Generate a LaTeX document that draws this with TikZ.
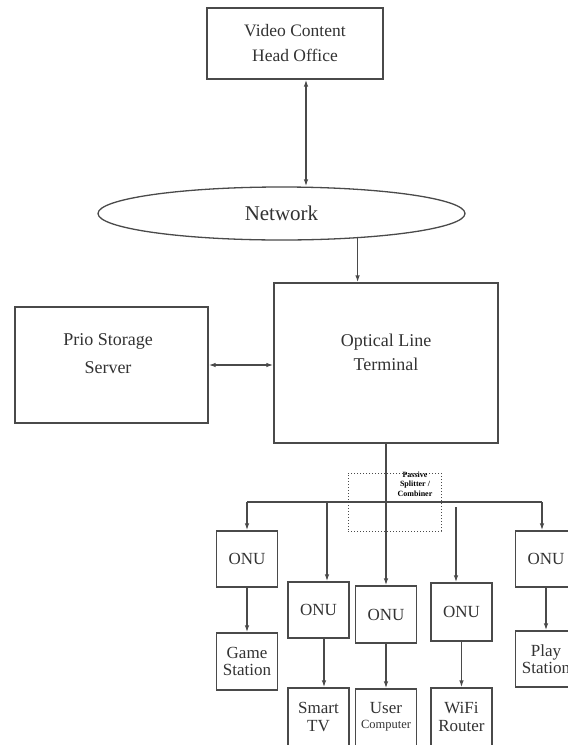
\documentclass[tikz,border=0pt]{standalone}
\usepackage{fontspec}
\setmainfont{Liberation Serif}
\usetikzlibrary{shapes.geometric,arrows.meta}
\definecolor{ln}{HTML}{4A4A4A}
\definecolor{tx}{HTML}{333333}
\tikzset{
  boxnode/.style={draw=ln, line width=1.3pt, rectangle, inner sep=0pt, align=center, text=tx},
  bigtxt/.style={font=\fontsize{17.5}{25}\selectfont},
  devtxt/.style={font=\fontsize{17}{17.5}\selectfont},
  plain/.style={inner sep=0pt, align=center, text=tx},
  conn/.style={draw=ln, line width=1.3pt, -{Latex[length=7pt,width=4.5pt]}},
  dconn/.style={draw=ln, line width=1.3pt, {Latex[length=7pt,width=4.5pt]}-{Latex[length=7pt,width=4.5pt]}},
  bus/.style={draw=ln, line width=1.3pt}
}
\begin{document}
\begin{tikzpicture}[x=1pt,y=-1pt]
\useasboundingbox (0,0) rectangle (568,745);
\clip (0,0) rectangle (568,745);
\fill[white] (0,0) rectangle (568,745);

% top
\node[boxnode, bigtxt, minimum width=176pt, minimum height=71pt] (vco) at (295,43.5) {Video Content\\Head Office};
\node[draw=ln, line width=1.3pt, ellipse, minimum width=367pt, minimum height=53pt, inner sep=0pt, text=tx, font=\fontsize{21}{25}\selectfont] (net) at (281.5,213.5) {Network};

% OLT and storage
\node[boxnode, minimum width=224pt, minimum height=160pt] (olt) at (386,363) {};
\node[plain, font=\fontsize{18}{24}\selectfont] (oltlabel) at (386,352) {Optical Line\\Terminal};
\node[boxnode, minimum width=193pt, minimum height=116pt] (pss) at (111.5,365) {};
\node[plain, font=\fontsize{18}{28}\selectfont] (psslabel) at (108,354) {Prio Storage\\Server};

% splitter
\node[draw=ln, line width=1pt, dotted, minimum width=93pt, minimum height=58pt, inner sep=0pt] (splitbox) at (394.5,502) {};
\node[plain, font=\fontsize{8}{9.5}\bfseries\selectfont, text=black] (splittxt) at (415,484) {Passive\\Splitter /\\Combiner};

% ONUs
\node[boxnode, devtxt, minimum width=61pt, minimum height=56pt] (onu1) at (247,559) {ONU};
\node[boxnode, devtxt, minimum width=61pt, minimum height=56pt] (onu2) at (318.5,610) {ONU};
\node[boxnode, devtxt, minimum width=61pt, minimum height=57pt] (onu3) at (386,614.5) {ONU};
\node[boxnode, devtxt, minimum width=61pt, minimum height=58pt] (onu4) at (461.5,612) {ONU};
\node[boxnode, devtxt, minimum width=61pt, minimum height=56pt] (onu5) at (546,559) {ONU};

% devices
\node[boxnode, devtxt, minimum width=61pt, minimum height=57pt] (game) at (247,661.5) {Game\\Station};
\node[boxnode, minimum width=61pt, minimum height=60pt] (tv) at (318.5,718) {};
\node[plain, devtxt] (tvlabel) at (318.5,717) {Smart\\TV};
\node[boxnode, minimum width=61pt, minimum height=60pt] (user) at (386,719) {};
\node[plain, devtxt] (userlabel) at (386,717) {User\\[-2pt]{\fontsize{12.5}{14}\selectfont Computer}};
\node[boxnode, minimum width=61pt, minimum height=60pt] (wifi) at (461.5,718) {};
\node[plain, devtxt] (wifilabel) at (461.5,717) {WiFi\\Router};
\node[boxnode, devtxt, minimum width=61pt, minimum height=56pt] (play) at (546,659) {Play\\Station};

% connectors
\draw[dconn] ([xshift=11pt]vco.south) -- ([xshift=11pt]vco.south |- net.north);
\draw[conn] (net.-18.5) -- (net.-18.5 |- olt.north);
\draw[dconn] (pss.east) -- (pss.east -| olt.west);

\coordinate (busL) at (247,502);
\coordinate (busR) at (542,502);
\coordinate (b2) at (327,502);
\coordinate (b4) at (456,507);
\draw[bus] (busL) -- (busR);
\draw[conn] (busL) -- (onu1.north);
\draw[conn] (b2) -- (b2 |- onu2.north);
\draw[conn] (olt.south) -- (onu3.north);
\draw[conn] (b4) -- (b4 |- onu4.north);
\draw[conn] (busR) -- (busR |- onu5.north);

\draw[conn] (onu1.south) -- (game.north);
\draw[conn] ([xshift=5.5pt]onu2.south) -- ([xshift=5.5pt]onu2.south |- tv.north);
\draw[conn] (onu3.south) -- (user.north);
\draw[conn] (onu4.south) -- (wifi.north);
\draw[conn] (onu5.south) -- (play.north);
\end{tikzpicture}
\end{document}
